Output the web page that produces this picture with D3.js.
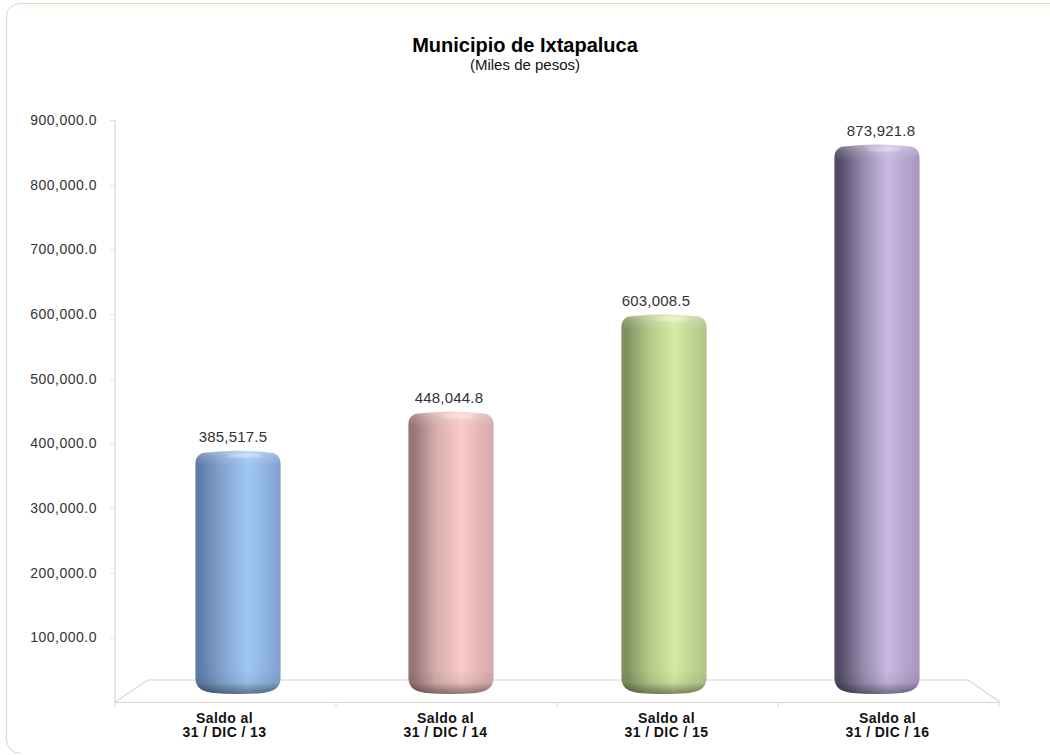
<!DOCTYPE html>
<html>
<head>
<meta charset="utf-8">
<script src="https://cdnjs.cloudflare.com/ajax/libs/d3/7.8.5/d3.min.js"></script>
<style>
  html, body { margin: 0; padding: 0; background: #fff; }
  svg { display: block; }
  text { font-family: "Liberation Sans", Arial, sans-serif; fill: #222; }
</style>
</head>
<body>
<div id="chart"></div>
<script>
// chart values
var categories = ["13", "14", "15", "16"];
var saldos = [385517.5, 448044.8, 603008.5, 873921.8];
var yTicks = [100000, 200000, 300000, 400000, 500000, 600000, 700000, 800000, 900000];
// left dark, mid, highlight, right edge
var barShades = [
  ["#5f7da6", "#83a5d0", "#9fc7f5", "#80a2cf"],
  ["#987575", "#d6adad", "#fbc9c9", "#d2a9a9"],
  ["#7f9060", "#b3c788", "#d6eaa4", "#b0c386"],
  ["#524b65", "#9387aa", "#c9b9e3", "#a797bf"]
];
var labelNudge = [-5, -2, -8, 4]; // value labels are not quite centred in the original

var width = 1050, height = 755;
var svg = d3.select("#chart").append("svg").attr("width", width).attr("height", height);
var defs = svg.append("defs");

function gradient(id, stops, vertical) {
  var g = defs.append("linearGradient").attr("id", id)
    .attr("x1", 0).attr("y1", 0)
    .attr("x2", vertical ? 0 : 1).attr("y2", vertical ? 1 : 0);
  stops.forEach(function(s) {
    g.append("stop").attr("offset", s[0]).attr("stop-color", s[1]).attr("stop-opacity", s[2] === undefined ? 1 : s[2]);
  });
}

// frame: top and left edges, the bottom edge fades out after the corner
gradient("frameTint", [[0, "#fbfaf3"], [1, "#ffffff"]], true);
svg.append("rect").attr("x", 20).attr("y", 4).attr("width", 1030).attr("height", 8).attr("fill", "url(#frameTint)");
svg.append("path")
  .attr("d", "M1050,3.5H21Q6.5,3.5 6.5,18V738Q6.5,752.5 21,753.5")
  .attr("fill", "none").attr("stroke", "#d8d8ce").attr("stroke-width", 1);

// back wall scale (ticks) and bar scale sit at different depths
var yAxisScale = d3.scaleLinear().domain([0, 900000]).range([702, 120]);
var yBar = d3.scaleLinear().domain([0, 900000]).range([693, 129]);
var xLabel = d3.scaleBand().domain(categories).range([115, 999]);
var xBar = d3.scaleBand().domain(categories).range([131.5, 983.5]).paddingInner(0.6).paddingOuter(0.3);

// title
svg.append("text").attr("x", 525).attr("y", 52).attr("text-anchor", "middle")
  .style("font-size", "20px").style("font-weight", "bold").style("fill", "#000")
  .text("Municipio de Ixtapaluca");
svg.append("text").attr("x", 525).attr("y", 70).attr("text-anchor", "middle")
  .style("font-size", "15px").style("fill", "#111")
  .text("(Miles de pesos)");

// floor + axes
var axisColor = "#d8d8cc";
var floor = svg.append("g").attr("fill", "none").attr("stroke", axisColor).attr("stroke-width", 1.2);
floor.append("path").attr("d", "M115,702L148,680H968L1000,702");
floor.append("line").attr("x1", 115).attr("x2", 1000).attr("y1", 702.5).attr("y2", 702.5);
floor.append("line").attr("x1", 115).attr("x2", 115).attr("y1", 120).attr("y2", 702);

var yAxis = d3.axisLeft(yAxisScale)
  .tickValues(yTicks)
  .tickSize(5)
  .tickPadding(13)
  .tickFormat(d3.format(",.1f"));
var yg = svg.append("g").attr("transform", "translate(115,0)").call(yAxis);
yg.select(".domain").remove();
yg.selectAll("line").attr("stroke", "#e4e4da");
yg.selectAll("text").style("font-size", "14px").style("letter-spacing", "0.5px").style("fill", "#333");

// ticks between the categories on the front edge
var xg = svg.append("g").attr("transform", "translate(0,702)");
xg.selectAll("line.sep").data(d3.range(0, categories.length + 1)).enter().append("line")
  .attr("class", "sep")
  .attr("x1", function(i) { return 115 + i * xLabel.step(); })
  .attr("x2", function(i) { return 115 + i * xLabel.step(); })
  .attr("y1", 0).attr("y2", 5).attr("stroke", axisColor);

// category labels
var cat = svg.append("g").selectAll("g").data(categories).enter().append("g")
  .attr("transform", function(d) { return "translate(" + (xLabel(d) + xLabel.bandwidth() / 2 - 1) + ",0)"; })
  .attr("text-anchor", "middle")
  .style("font-size", "14px").style("font-weight", "bold").style("letter-spacing", "0.4px");
cat.append("text").attr("y", 723).style("fill", "#111").text("Saldo al");
cat.append("text").attr("y", 737).style("fill", "#111").text(function(d) { return "31 / DIC / " + d; });

barShades.forEach(function(c, i) {
  gradient("body" + i, [[0, c[0]], [0.06, c[0]], [0.32, c[1]], [0.62, c[2]], [1, c[3]]]);
});
gradient("capShade", [[0, "#fff", 0.32], [0.45, "#fff", 0.14], [1, "#fff", 0]], true);
gradient("baseShade", [[0, "#000", 0], [0.55, "#000", 0.06], [1, "#000", 0.42]], true);
defs.append("filter").attr("id", "soft").append("feGaussianBlur").attr("stdDeviation", 0.5);
defs.append("filter").attr("id", "softer").append("feGaussianBlur").attr("stdDeviation", 1.6);

function cylinderPath(x, top, w, bottom) {
  var r = 12, b = 17;
  return "M" + x + "," + (top + r) +
    "C" + x + "," + (top + 3) + " " + (x + 5) + "," + top + " " + (x + r) + "," + top +
    "Q" + (x + w / 2) + "," + (top - 3.5) + " " + (x + w - r) + "," + top +
    "C" + (x + w - 5) + "," + top + " " + (x + w) + "," + (top + 3) + " " + (x + w) + "," + (top + r) +
    "V" + (bottom - b) +
    "C" + (x + w) + "," + (bottom - 5) + " " + (x + w - 8) + "," + (bottom - 2.5) + " " + (x + w - 18) + "," + (bottom - 1) +
    "Q" + (x + w / 2) + "," + (bottom + 1) + " " + (x + 18) + "," + (bottom - 1) +
    "C" + (x + 8) + "," + (bottom - 2.5) + " " + x + "," + (bottom - 5) + " " + x + "," + (bottom - b) + "Z";
}

// cylinders
var bars = svg.append("g").selectAll("g").data(saldos).enter().append("g");
bars.each(function(d, i) {
  var g = d3.select(this);
  var key = categories[i];
  var x = xBar(key), w = xBar.bandwidth();
  var top = yBar(d) + 1, bottom = yBar(0) + 1;
  var shape = g.append("g").attr("filter", "url(#soft)");
  shape.append("path").attr("d", cylinderPath(x, top, w, bottom)).attr("fill", "url(#body" + i + ")");
  // top bevel
  shape.append("rect").attr("x", x + 1).attr("y", top - 2).attr("width", w - 2).attr("height", 16).attr("rx", 9)
    .attr("fill", "url(#capShade)");
  // bottom bevel
  shape.append("path").attr("d", cylinderPath(x, bottom - 24, w, bottom)).attr("fill", "url(#baseShade)");
  g.append("ellipse").attr("cx", x + w * 0.58).attr("cy", top + 3).attr("rx", w * 0.2).attr("ry", 2)
    .attr("fill", "#fff").attr("opacity", 0.4).attr("filter", "url(#softer)");
  // value label
  g.append("text").attr("x", x + w / 2 + labelNudge[i]).attr("y", yBar(d) - 9).attr("text-anchor", "middle")
    .style("font-size", "15px").style("letter-spacing", "0.2px").style("fill", "#333")
    .text(d3.format(",.1f")(d));
});
</script>
</body>
</html>
